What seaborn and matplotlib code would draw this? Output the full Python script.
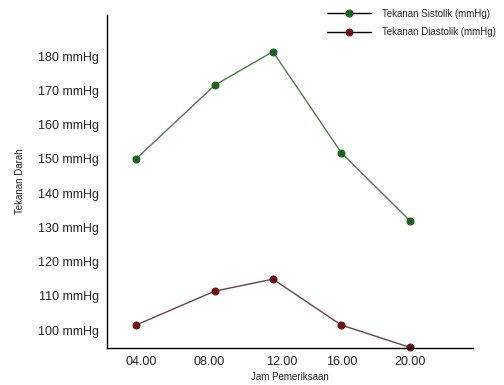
import matplotlib
matplotlib.use("Agg")
import matplotlib.pyplot as plt
import seaborn as sns
import pandas as pd

jam = [4.0, 8.6, 12.0, 16.0, 20.0]
sistolik = [150, 171.5, 181.3, 151.8, 132]
diastolik = [101.5, 111.4, 114.9, 101.5, 95]
tick_pos = [4.3, 8.3, 12.5, 16.05, 20.0]
tick_labels = ["04.00", "08.00", "12.00", "16.00", "20.00"]
y_ticks = [100, 110, 120, 130, 140, 150, 160, 170, 180]

sns.set_theme(style="white")
plt.rcParams['font.family'] = ['Liberation Sans', 'DejaVu Sans']

df = pd.DataFrame({
    "jam": jam * 2,
    "nilai": sistolik + diastolik,
    "seri": ["Tekanan Sistolik (mmHg)"] * len(jam) + ["Tekanan Diastolik (mmHg)"] * len(jam),
})

fig = plt.figure(figsize=(5.04, 3.85), dpi=100)
ax = fig.add_axes([107/504, 1-348/385, (473-107)/504, (348-15)/385])

line_colors = {"Tekanan Sistolik (mmHg)": "#4d7a45", "Tekanan Diastolik (mmHg)": "#6e4040"}
marker_colors = {"Tekanan Sistolik (mmHg)": "#1f6122", "Tekanan Diastolik (mmHg)": "#6a1114"}
for name, sub in df.groupby("seri", sort=False):
    sns.lineplot(data=sub, x="jam", y="nilai", ax=ax, color=line_colors[name], lw=1.0,
                 marker="o", markersize=5, markerfacecolor=marker_colors[name],
                 markeredgecolor=marker_colors[name], label=name, clip_on=False)

ax.set_xlim(2.3, 23.7)
ax.set_ylim(94.8, 192)
ax.set_xticks(tick_pos)
ax.set_xticklabels(tick_labels)
ax.set_yticks(y_ticks)
ax.set_yticklabels([f"{v} mmHg" for v in y_ticks])
ax.tick_params(axis='both', labelsize=9, length=0, colors="#222222", pad=6)
ax.set_xlabel("Jam Pemeriksaan", fontsize=7, labelpad=3, color="#222222")
ax.set_ylabel("Tekanan Darah", fontsize=7, labelpad=9, color="#222222")
for s in ["top", "right"]:
    ax.spines[s].set_visible(False)
for s in ["left", "bottom"]:
    ax.spines[s].set_color("black")
    ax.spines[s].set_linewidth(1.0)

handles, labels = ax.get_legend_handles_labels()
leg = ax.legend(handles, labels, loc="upper left", bbox_to_anchor=(318/504, 1-0/385),
                bbox_transform=fig.transFigure, frameon=False, fontsize=7,
                handlelength=4.5, labelspacing=0.9, handletextpad=1.2)
for line in leg.get_lines():
    line.set_color("black")

fig.savefig("out.png", dpi=100)
